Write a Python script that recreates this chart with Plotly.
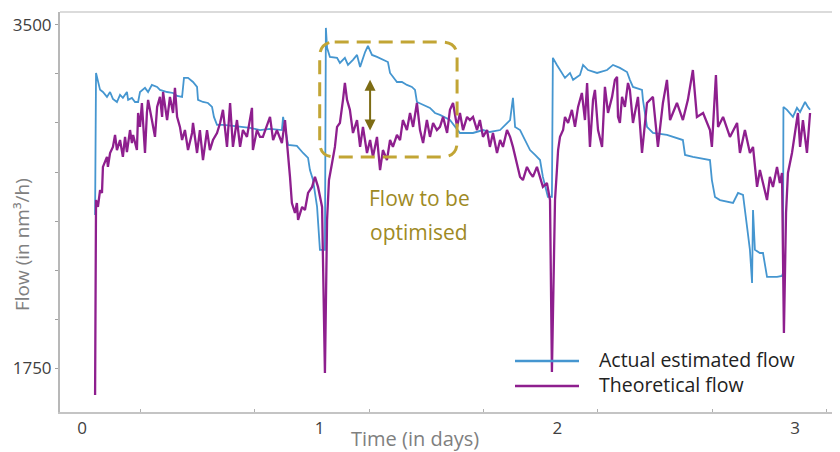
import plotly.graph_objects as go

# ---------------- data ----------------
days_actual = [
    0.055, 0.059, 0.076, 0.088, 0.105, 0.118, 0.130, 0.147, 0.160, 0.172, 0.189, 0.194, 0.210, 0.223,
    0.236, 0.244, 0.265, 0.278, 0.294, 0.316, 0.328, 0.358, 0.383, 0.400, 0.421, 0.429, 0.446, 0.467,
    0.484, 0.488, 0.509, 0.530, 0.547, 0.555, 0.568, 0.593, 0.635, 0.673, 0.707, 0.749, 0.791, 0.841,
    0.846, 0.867, 0.904, 0.930, 0.951, 0.959, 0.972, 0.989, 0.993, 1.001, 1.022, 1.026, 1.031, 1.043,
    1.073, 1.085, 1.106, 1.119, 1.140, 1.157, 1.170, 1.191, 1.203, 1.220, 1.241, 1.266, 1.287, 1.296,
    1.325, 1.346, 1.367, 1.388, 1.401, 1.409, 1.435, 1.464, 1.485, 1.506, 1.548, 1.590, 1.645, 1.687,
    1.716, 1.759, 1.801, 1.813, 1.822, 1.843, 1.864, 1.885, 1.906, 1.927, 1.939, 1.960, 1.977, 1.981,
    1.998, 2.019, 2.032, 2.053, 2.066, 2.095, 2.108, 2.129, 2.167, 2.209, 2.234, 2.263, 2.293, 2.305,
    2.318, 2.356, 2.360, 2.377, 2.402, 2.461, 2.503, 2.528, 2.537, 2.570, 2.642, 2.650, 2.663, 2.684,
    2.739, 2.760, 2.781, 2.789, 2.798, 2.810, 2.819, 2.823, 2.831, 2.852, 2.865, 2.882, 2.924, 2.945,
    2.949, 2.951, 2.966, 2.991, 3.008, 3.021, 3.042, 3.054, 3.063,
]
flow_actual = [
    2531, 3255, 3169, 3158, 3133, 3158, 3123, 3107, 3143, 3128, 3158, 3118, 3128, 3107,
    3107, 3158, 3179, 3158, 3194, 3184, 3169, 3158, 3153, 3138, 3133, 3230, 3230, 3209,
    3184, 3118, 3107, 3102, 3082, 3031, 2990, 2990, 2985, 2980, 2975, 2964, 2970, 2964,
    3031, 2888, 2883, 2847, 2822, 2760, 2709, 2572, 2506, 2353, 2353, 3485, 3383, 3337,
    3332, 3306, 3332, 3296, 3322, 3347, 3286, 3362, 3393, 3347, 3337, 3322, 3311, 3255,
    3209, 3209, 3194, 3184, 3169, 3107, 3092, 3077, 3051, 3041, 3015, 2949, 2949, 2964,
    2954, 2964, 3015, 3128, 2980, 2964, 2913, 2862, 2837, 2811, 2725, 2623, 2623, 3332,
    3296, 3255, 3230, 3255, 3220, 3245, 3296, 3270, 3255, 3270, 3296, 3281, 3260, 3220,
    3184, 3169, 3118, 2980, 2949, 2939, 2924, 2913, 2837, 2827, 2811, 2709, 2623, 2607,
    2592, 2643, 2633, 2541, 2470, 2353, 2184, 2556, 2353, 2337, 2337, 2215, 2215, 2220,
    2235, 3082, 3067, 3031, 3077, 3056, 3107, 3082, 3067,
]

days_theoretical = [
    0.055, 0.059, 0.067, 0.076, 0.084, 0.088, 0.105, 0.109, 0.118, 0.130, 0.139, 0.147, 0.160, 0.172,
    0.181, 0.189, 0.202, 0.210, 0.215, 0.231, 0.236, 0.244, 0.252, 0.257, 0.265, 0.273, 0.278, 0.294,
    0.307, 0.316, 0.328, 0.337, 0.341, 0.358, 0.370, 0.383, 0.391, 0.400, 0.412, 0.421, 0.433, 0.446,
    0.463, 0.467, 0.484, 0.496, 0.509, 0.526, 0.538, 0.551, 0.568, 0.581, 0.593, 0.610, 0.623, 0.635,
    0.652, 0.665, 0.677, 0.694, 0.715, 0.719, 0.736, 0.749, 0.761, 0.791, 0.804, 0.820, 0.841, 0.854,
    0.867, 0.875, 0.883, 0.896, 0.904, 0.909, 0.926, 0.938, 0.951, 0.968, 0.980, 0.993, 1.010, 1.014,
    1.022, 1.031, 1.039, 1.052, 1.064, 1.073, 1.085, 1.098, 1.106, 1.115, 1.127, 1.140, 1.157, 1.170,
    1.182, 1.199, 1.212, 1.224, 1.241, 1.254, 1.266, 1.283, 1.296, 1.308, 1.325, 1.338, 1.350, 1.367,
    1.380, 1.393, 1.409, 1.422, 1.435, 1.451, 1.464, 1.477, 1.493, 1.506, 1.519, 1.536, 1.548, 1.561,
    1.578, 1.590, 1.603, 1.620, 1.632, 1.645, 1.662, 1.674, 1.687, 1.704, 1.716, 1.729, 1.746, 1.759,
    1.771, 1.788, 1.801, 1.813, 1.830, 1.843, 1.855, 1.872, 1.885, 1.897, 1.914, 1.927, 1.939, 1.956,
    1.969, 1.977, 1.990, 1.998, 2.003, 2.011, 2.024, 2.032, 2.045, 2.061, 2.074, 2.087, 2.103, 2.116,
    2.125, 2.137, 2.150, 2.158, 2.171, 2.188, 2.200, 2.213, 2.230, 2.242, 2.251, 2.255, 2.263, 2.272,
    2.284, 2.297, 2.305, 2.318, 2.339, 2.356, 2.377, 2.402, 2.423, 2.444, 2.461, 2.474, 2.503, 2.528,
    2.549, 2.570, 2.587, 2.613, 2.642, 2.650, 2.667, 2.676, 2.697, 2.726, 2.756, 2.768, 2.789, 2.810,
    2.823, 2.840, 2.852, 2.865, 2.882, 2.894, 2.907, 2.924, 2.936, 2.945, 2.953, 2.962, 2.970, 2.987,
    3.000, 3.012, 3.021, 3.033, 3.050, 3.063,
]
flow_theoretical = [
    1613, 2607, 2572, 2658, 2643, 2776, 2827, 2776, 2847, 2878, 2939, 2862, 2913, 2827,
    2929, 2852, 2964, 2898, 2939, 2862, 3051, 2980, 3102, 3000, 2847, 3051, 3118, 3015,
    2929, 3082, 3133, 3031, 3158, 3015, 3133, 3051, 3179, 3031, 2980, 2913, 2964, 2862,
    2949, 3000, 2847, 2964, 2811, 2964, 2862, 2913, 2949, 3000, 3067, 2878, 3102, 2878,
    3015, 2878, 2964, 2929, 3077, 2862, 2964, 2929, 2929, 3031, 2913, 2964, 2898, 3015,
    2847, 2725, 2592, 2541, 2592, 2506, 2572, 2556, 2643, 2674, 2725, 2674, 2572, 2337,
    1725, 2506, 2709, 2796, 2878, 2980, 3000, 3118, 3204, 3118, 3067, 2949, 3015, 2878,
    2980, 2847, 2913, 2827, 2929, 2760, 2862, 2811, 2913, 2878, 2939, 2913, 3015, 2964,
    3051, 2980, 3102, 2964, 2898, 3015, 2929, 3000, 2964, 2980, 3031, 2949, 3067, 3102,
    2980, 3051, 2964, 3031, 3015, 3031, 2964, 3015, 2929, 2964, 2878, 2949, 2847, 2913,
    2878, 2964, 2929, 2878, 2796, 2725, 2709, 2776, 2745, 2725, 2776, 2725, 2674, 2694,
    2607, 1730, 2607, 2760, 2862, 2929, 2964, 3031, 3000, 3067, 2980, 3082, 3153, 3015,
    3204, 2878, 3118, 3169, 2964, 2878, 3184, 3051, 3133, 3220, 3235, 3031, 3000, 3133,
    3082, 3204, 3169, 3000, 3133, 2847, 3102, 3133, 2878, 3102, 3220, 3015, 3102, 3015,
    3118, 3270, 3031, 3051, 2964, 2878, 3245, 2980, 3031, 2929, 3000, 2847, 2964, 2847,
    2878, 2674, 2760, 2694, 2607, 2725, 2674, 2776, 2694, 2745, 1929, 2541, 2745, 2847,
    2964, 3051, 2878, 3015, 2847, 3051,
]

series_names = ["Actual estimated flow", "Theoretical flow"]
x_tick_values = [0, 1, 2, 3]
x_tick_labels = ["0", "1", "2", "3"]
y_tick_values = [1750, 2000, 2250, 2500, 2750, 3000, 3250, 3500]
y_tick_labels = ["1750", "", "", "", "", "", "", "3500"]
annotation_lines = ["Flow to be", "optimised"]

# ---------------- styling / layout ----------------
BLUE = "#4596d0"
PURPLE = "#8e1f8e"
OLIVE = "#9e8a24"
BOX = "#c2a535"
ARROW = "#7d6c14"
FONT = "Open Sans"

# the page body has an 8px margin, so the figure is drawn 8px smaller
PAGE_OFF = 8
W, H = 840 - PAGE_OFF, 452 - PAGE_OFF
ML, MR, MT, MB = 60 - PAGE_OFF, 0, 12 - PAGE_OFF, 40
X_RANGE = [-0.0926, 3.189]
Y_RANGE = [1526, 3566]
PW, PH = W - ML - MR, H - MT - MB
PLOT_LEFT, PLOT_BOTTOM = 60, 412  # positions in the 840x452 window


def paper_x(px):
    return (px - PLOT_LEFT) / PW


def paper_y(py):
    return (PLOT_BOTTOM - py) / PH


fig = go.Figure()
fig.add_trace(go.Scatter(x=days_actual, y=flow_actual, mode="lines", name=series_names[0],
                         line=dict(color=BLUE, width=1.8), showlegend=False))
fig.add_trace(go.Scatter(x=days_theoretical, y=flow_theoretical, mode="lines", name=series_names[1],
                         line=dict(color=PURPLE, width=2.3), showlegend=False))

# dashed rounded box around the gap (data coordinates)
bx0, bx1, by0, by1 = 1.0, 1.578, 2827, 3413
rx = 15 * (X_RANGE[1] - X_RANGE[0]) / PW
ry = 15 * (Y_RANGE[1] - Y_RANGE[0]) / PH
path = (f"M {bx0 + rx},{by1} L {bx1 - rx},{by1} Q {bx1},{by1} {bx1},{by1 - ry} "
        f"L {bx1},{by0 + ry} Q {bx1},{by0} {bx1 - rx},{by0} L {bx0 + rx},{by0} "
        f"Q {bx0},{by0} {bx0},{by0 + ry} L {bx0},{by1 - ry} Q {bx0},{by1} {bx0 + rx},{by1} Z")
fig.add_shape(type="path", path=path, xref="x", yref="y",
              line=dict(color=BOX, width=3, dash="14px,8px"), layer="above")

# double-headed arrow (gap between the two flows)
fig.add_annotation(x=1.212, y=3220, ax=1.212, ay=2954, xref="x", yref="y", axref="x", ayref="y",
                   text="", showarrow=True, arrowhead=2, startarrowhead=2, arrowside="end+start",
                   arrowsize=1.1, startarrowsize=1.1, arrowwidth=2, arrowcolor=ARROW)

for txt, py in zip(annotation_lines, [198, 232]):
    fig.add_annotation(x=paper_x(419), y=paper_y(py), xref="paper", yref="paper", text=txt,
                       showarrow=False, xanchor="center", yanchor="middle",
                       font=dict(family=FONT, size=21, color=OLIVE))

# manual legend (long line samples like the original)
for color, py in zip([BLUE, PURPLE], [361, 386]):
    fig.add_shape(type="line", xref="paper", yref="paper", x0=paper_x(515), x1=paper_x(579),
                  y0=paper_y(py), y1=paper_y(py), line=dict(color=color, width=2.5))
fig.add_annotation(x=paper_x(598), y=paper_y(372), xref="paper", yref="paper",
                   text="<br>".join(series_names), align="left",
                   showarrow=False, xanchor="left", yanchor="middle", borderpad=0,
                   font=dict(family=FONT, size=19.5, color="#222222"))

# top border line
fig.add_shape(type="line", xref="paper", yref="paper", x0=0, x1=1, y0=1, y1=1,
              line=dict(color="#cfcfcf", width=1.5))

# axis titles as annotations (offset like the original)
fig.add_annotation(x=paper_x(415), y=paper_y(438), xref="paper", yref="paper", text="Time (in days)",
                   showarrow=False, xanchor="center", yanchor="middle",
                   font=dict(family=FONT, size=20, color="#808080"))
fig.add_annotation(x=paper_x(22), y=paper_y(245), xref="paper", yref="paper", text="Flow (in nm³/h)",
                   showarrow=False, xanchor="center", yanchor="middle", textangle=-90, borderpad=0,
                   font=dict(family=FONT, size=19, color="#808080"))

fig.update_layout(
    width=W, height=H,
    margin=dict(l=ML, r=MR, t=MT, b=MB),
    paper_bgcolor="white", plot_bgcolor="white",
    showlegend=False,
    xaxis=dict(range=X_RANGE, showgrid=False, zeroline=False, showline=True,
               linecolor="#c4c4c4", linewidth=2,
               tickmode="array", tickvals=x_tick_values, ticktext=x_tick_labels, ticks="",
               tickfont=dict(family=FONT, size=17, color="#404040"),
               minor=dict(ticks="inside", ticklen=3, tickcolor="#b0b0b0", tickmode="linear",
                          tick0=0.244, dtick=0.4817, showgrid=False)),
    yaxis=dict(range=Y_RANGE, showgrid=False, zeroline=False, showline=True,
               linecolor="#b8b8b8", linewidth=2,
               tickmode="array", tickvals=y_tick_values, ticktext=y_tick_labels,
               ticks="outside", ticklen=3, tickcolor="#a0a0a0",
               tickfont=dict(family=FONT, size=17, color="#404040")),
)

fig.write_html("out.html")
